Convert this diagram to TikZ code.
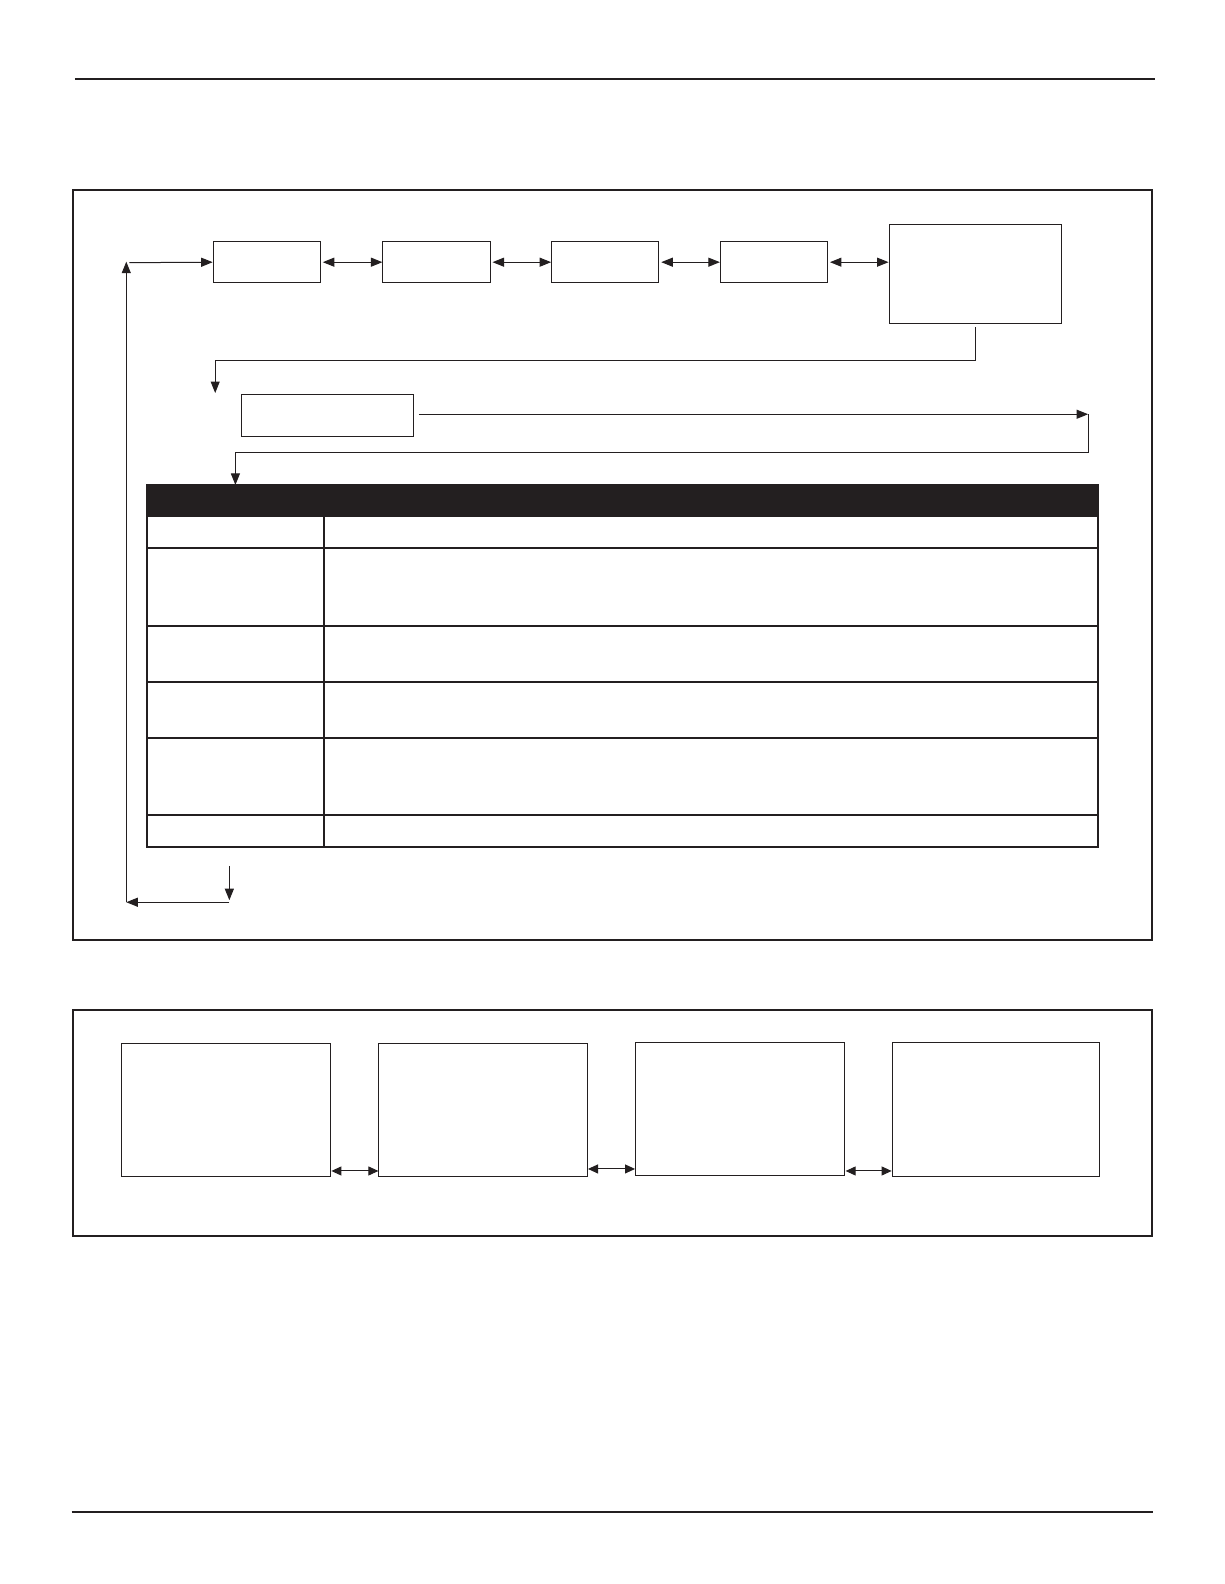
\documentclass[tikz,border=0pt]{standalone}
\usetikzlibrary{arrows.meta}
\definecolor{ink}{HTML}{231F20}
\begin{document}
\begin{tikzpicture}[x=1.0103bp,y=-1.0103bp,
  box/.style={draw=ink,line width=1bp,inner sep=0pt,fill=white},
  frame/.style={draw=ink,line width=2bp},
  tbl/.style={draw=ink,line width=2bp},
  conn/.style={draw=ink,line width=1bp},
  tip/.tip={Triangle[length=11.5bp,width=9bp]},
  stip/.tip={Triangle[length=10bp,width=9bp]},
  arr/.style={conn,-tip},
  darr/.style={conn,tip-tip},
  sdarr/.style={conn,stip-stip}]
\useasboundingbox (0,0) rectangle (1211.5,1567.8);
\fill[white] (0,0) rectangle (1211.5,1567.8);
% rules
\draw[ink,line width=2bp] (74,78) -- (1143,78);
\draw[ink,line width=2bp] (71,1497) -- (1141,1497);
% frames
\draw[frame] (72,188) rectangle (1140,930);
\draw[frame] (72,1000) rectangle (1140,1223);
% top row boxes
\node[box,minimum width=107.1bp,minimum height=41.4bp] (b1) at (264,259.5) {};
\node[box,minimum width=107.1bp,minimum height=41.4bp] (b2) at (432,259.5) {};
\node[box,minimum width=107.1bp,minimum height=41.4bp] (b3) at (599,259.5) {};
\node[box,minimum width=107.1bp,minimum height=41.4bp] (b4) at (766,259.5) {};
\node[box,minimum width=172.8bp,minimum height=99bp] (b5) at (965.5,271) {};
\node[box,minimum width=171.8bp,minimum height=42.4bp] (b6) at (324,411) {};
\draw[darr] ([xshift=2bp]b1.east) -- (b2.west);
\draw[darr] ([xshift=2bp]b2.east) -- (b3.west);
\draw[darr] ([xshift=2bp]b3.east) -- (b4.west);
\draw[darr] ([xshift=2bp]b4.east) -- (b5.west |- b4.east);
% loop from b5 down to b6
\coordinate (c0) at (0,357);
\coordinate (c1) at (b5.south |- c0);
\coordinate (c2) at (213,357);
\coordinate (c3) at (213,389);
\draw[arr] ([yshift=-3.5bp]b5.south) -- (c1) -- (c2) -- (c3);
% b6 to right and back to table
\coordinate (r1) at (1077,410);
\coordinate (r2) at (1077,448);
\coordinate (r3) at (233,448);
\coordinate (r4) at (233,480);
\draw[arr] ([xshift=5bp]b6.east |- r1) -- (r1);
\draw[conn] (r1) -- (r2) -- (r3);
\draw[arr] (r3) -- (r4);
% table
\fill[ink] (145,480) rectangle (1087,512);
\draw[tbl] (145,480) rectangle (1087,838);
\draw[tbl] (321,512) -- (321,838);
\foreach \yy in {542,620,675,730,807} \draw[tbl] (145,\yy) -- (1087,\yy);
% bottom return loop
\coordinate (d1) at (227,857);
\coordinate (d2) at (227,891);
\coordinate (d3) at (227,893);
\coordinate (d4) at (125,893);
\coordinate (u1) at (125,893);
\coordinate (u2) at (125,259);
\coordinate (h1) at (128,260);
\draw[arr] (d1) -- (d2);
\draw[arr] (d3) -- (d4);
\draw[arr] (u1) -- (u2);
\draw[arr] (h1) -- (b1.west);
% bottom frame boxes
\node[box,minimum width=209.1bp,minimum height=132.3bp] (p1) at (223.5,1098.5) {};
\node[box,minimum width=208.1bp,minimum height=132.3bp] (p2) at (478,1098.5) {};
\node[box,minimum width=209.1bp,minimum height=132.3bp] (p3) at (732.5,1097.5) {};
\node[box,minimum width=207.1bp,minimum height=133.4bp] (p4) at (985.5,1098) {};
\coordinate (q1) at (327,1159);
\coordinate (q2) at (581,1157);
\coordinate (q3) at (836,1159);
\draw[sdarr] ([xshift=1bp]q1) -- (p2.west |- q1);
\draw[sdarr] ([xshift=1bp]q2) -- (p3.west |- q2);
\draw[sdarr] ([xshift=1bp]q3) -- (p4.west |- q3);
\end{tikzpicture}
\end{document}
